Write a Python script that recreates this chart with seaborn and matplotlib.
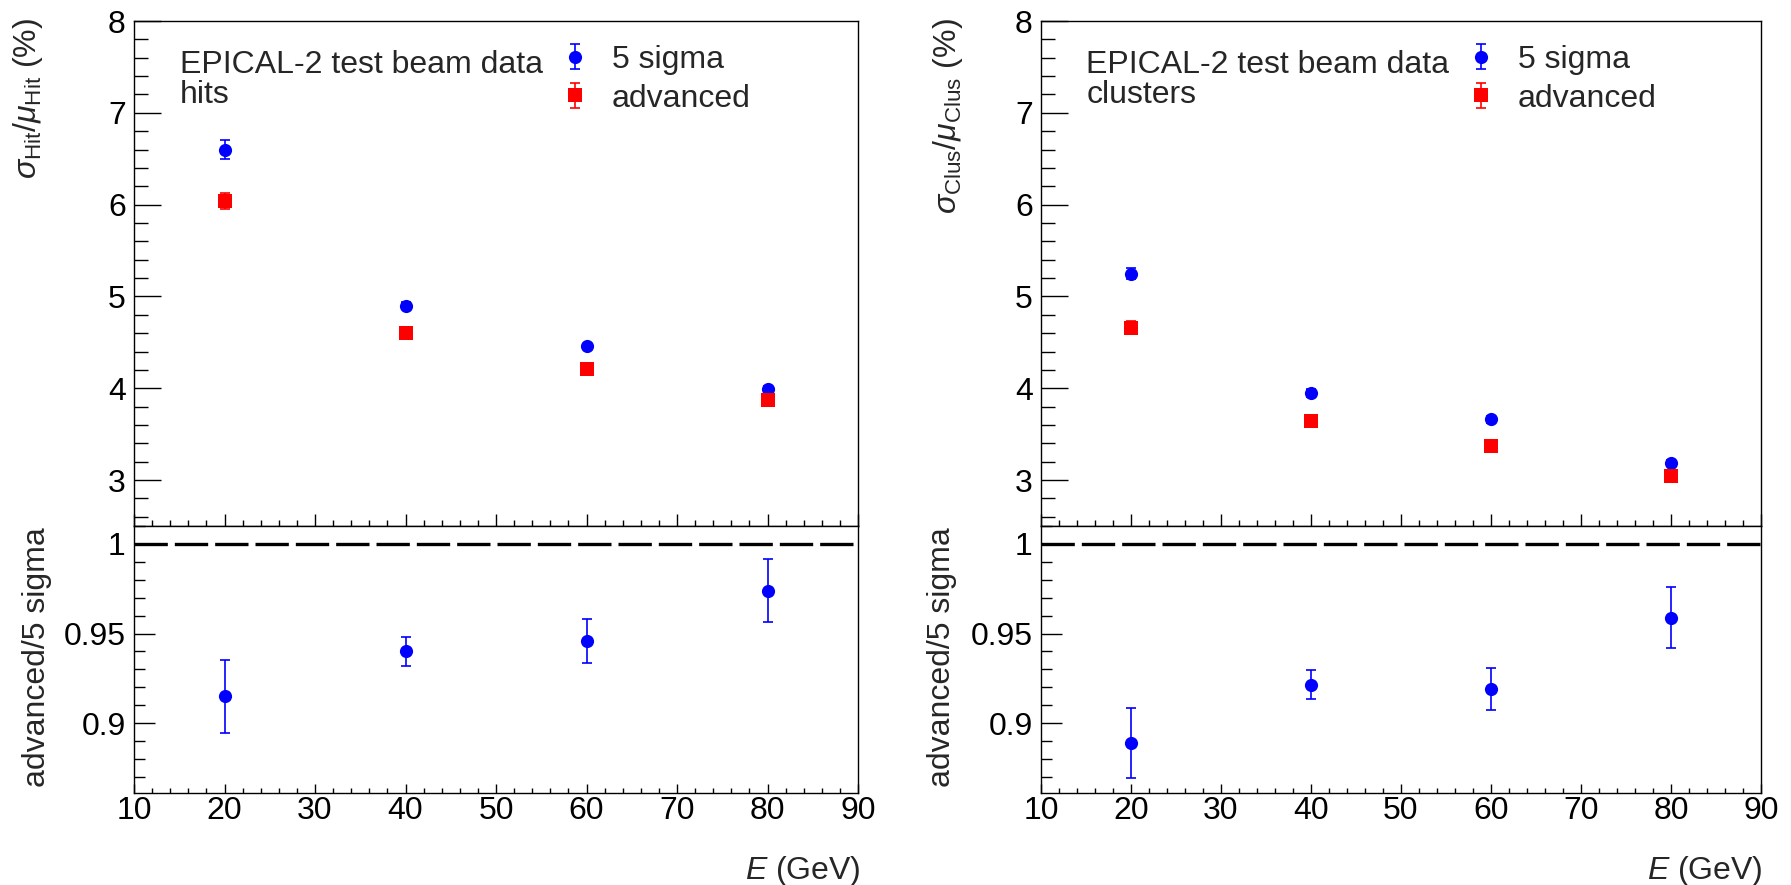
import pandas as pd
import matplotlib
matplotlib.use('Agg')
import matplotlib.pyplot as plt
from matplotlib.ticker import MultipleLocator, FormatStrFormatter
from matplotlib.container import ErrorbarContainer
from matplotlib.legend_handler import HandlerErrorbar
import seaborn as sns

# valores
energia = [20, 40, 60, 80]

hits_5sigma = [6.60, 4.90, 4.455, 3.99]
hits_5sigma_err = [0.10, 0.04, 0.03, 0.03]
hits_avancado = [6.04, 4.60, 4.21, 3.87]
hits_avancado_err = [0.09, 0.03, 0.03, 0.03]
hits_razao = [0.915, 0.940, 0.946, 0.974]
hits_razao_err = [0.0205, 0.0082, 0.0123, 0.0175]

clus_5sigma = [5.25, 3.95, 3.66, 3.19]
clus_5sigma_err = [0.06, 0.04, 0.04, 0.03]
clus_avancado = [4.66, 3.64, 3.37, 3.05]
clus_avancado_err = [0.07, 0.03, 0.03, 0.03]
clus_razao = [0.889, 0.9215, 0.919, 0.9588]
clus_razao_err = [0.0197, 0.0082, 0.0118, 0.017]

rotulos = ['5 sigma', 'advanced']
azul = '#0000ff'
vermelho = '#ff0000'
fs = 23

sns.set_theme(style='ticks')
plt.rcParams['font.family'] = ['Liberation Sans', 'DejaVu Sans']
plt.rcParams['mathtext.fontset'] = 'custom'
plt.rcParams['mathtext.rm'] = 'Liberation Sans'
plt.rcParams['mathtext.it'] = 'Liberation Sans:italic'
plt.rcParams['mathtext.bf'] = 'Liberation Sans:bold'


def estilo_eixo(ax, xmaj, xmin, ylen):
    for s in ax.spines.values():
        s.set_linewidth(1.0)
        s.set_color('black')
    ax.xaxis.set_major_locator(MultipleLocator(10))
    ax.xaxis.set_minor_locator(MultipleLocator(2))
    ax.tick_params(which='both', direction='in', top=False, right=False,
                   labelsize=fs, colors='black', width=1.0)
    ax.tick_params(axis='x', which='major', length=xmaj, pad=2)
    ax.tick_params(axis='x', which='minor', length=xmin)
    ax.tick_params(axis='y', which='major', length=ylen[0], pad=6)
    ax.tick_params(axis='y', which='minor', length=ylen[1])
    ax.set_xlim(10, 90)


def painel(ax_top, ax_bot, y5, e5, yadv, eadv, razao, razao_err, ylabel, tag, xl, xleg):
    df = pd.DataFrame({'E': energia * 2,
                       'valor': y5 + yadv,
                       'metodo': [rotulos[0]] * 4 + [rotulos[1]] * 4})
    handles = []
    for nome, cor, mk, err in [(rotulos[0], azul, 'o', e5), (rotulos[1], vermelho, 's', eadv)]:
        sub = df[df['metodo'] == nome]
        eb = ax_top.errorbar(sub['E'], sub['valor'], yerr=err, fmt='none',
                             ecolor=cor, elinewidth=1.2, capsize=3.5, capthick=1.2, zorder=2)
        sns.scatterplot(x=sub['E'], y=sub['valor'], ax=ax_top, color=cor, marker=mk,
                        s=90, linewidth=0, zorder=3, legend=False)
        handles.append((eb, ax_top.collections[-1]))

    ax_top.set_ylim(2.5, 8)
    ax_top.yaxis.set_major_locator(MultipleLocator(1))
    ax_top.yaxis.set_minor_locator(MultipleLocator(0.2))
    ax_top.yaxis.set_major_formatter(FormatStrFormatter('%g'))
    estilo_eixo(ax_top, 8.6, 4.3, (19.4, 10))
    ax_top.tick_params(axis='x', labelbottom=False)
    ax_top.set_xlabel('')
    ax_top.set_ylabel(ylabel, fontsize=fs, loc='top')
    ax_top.yaxis.set_label_coords(xl[0], 1.006)

    ax_top.text(0.063, 0.943, 'EPICAL-2 test beam data\n' + tag, transform=ax_top.transAxes,
                ha='left', va='top', fontsize=fs, linespacing=1.02)
    ax_top.legend(handles, rotulos, loc='upper left', bbox_to_anchor=(xleg, 0.953),
                  frameon=False, fontsize=fs, borderpad=0, borderaxespad=0,
                  handlelength=1.0, handletextpad=0.66, labelspacing=0.28,
                  scatterpoints=1, scatteryoffsets=[0.5],
                  handler_map={ErrorbarContainer: HandlerErrorbar(xerr_size=0.38)})

    # razao
    ax_bot.axhline(1, color='black', lw=2.4, ls=(0, (10, 2.1)), zorder=1)
    ax_bot.errorbar(energia, razao, yerr=razao_err, fmt='none', ecolor=azul,
                    elinewidth=1.2, capsize=3.5, capthick=1.2, zorder=2)
    sns.scatterplot(x=energia, y=razao, ax=ax_bot, color=azul, marker='o', s=90,
                    linewidth=0, zorder=3, legend=False)
    ax_bot.set_ylim(0.861, 1.01)
    ax_bot.yaxis.set_major_locator(MultipleLocator(0.05))
    ax_bot.yaxis.set_minor_locator(MultipleLocator(0.01))
    ax_bot.yaxis.set_major_formatter(FormatStrFormatter('%g'))
    estilo_eixo(ax_bot, 6.5, 3.6, (15, 8))
    ax_bot.set_ylabel('advanced/5 sigma', fontsize=fs, loc='top')
    ax_bot.yaxis.set_label_coords(xl[1], 0.997)
    ax_bot.set_xlabel('$E$ (GeV)', fontsize=fs, loc='right')
    ax_bot.xaxis.set_label_coords(1.003, -0.228)


fig = plt.figure(figsize=(17.91, 8.85), dpi=100)
W, H = 1791, 885
ax1 = fig.add_axes([134 / W, (H - 526) / H, 724 / W, 505 / H])
ax2 = fig.add_axes([134 / W, (H - 793) / H, 724 / W, 267 / H])
ax3 = fig.add_axes([1041 / W, (H - 526) / H, 720 / W, 505 / H])
ax4 = fig.add_axes([1041 / W, (H - 793) / H, 720 / W, 267 / H])

painel(ax1, ax2, hits_5sigma, hits_5sigma_err, hits_avancado, hits_avancado_err,
       hits_razao, hits_razao_err, r'$\sigma_{\rm Hit}/\mu_{\rm Hit}$ (%)', 'hits',
       (-0.123, -0.113), 0.587)
painel(ax3, ax4, clus_5sigma, clus_5sigma_err, clus_avancado, clus_avancado_err,
       clus_razao, clus_razao_err, r'$\sigma_{\rm Clus}/\mu_{\rm Clus}$ (%)', 'clusters',
       (-0.106, -0.117), 0.589)

fig.savefig('out.png', dpi=100, facecolor='white')
plt.close(fig)
